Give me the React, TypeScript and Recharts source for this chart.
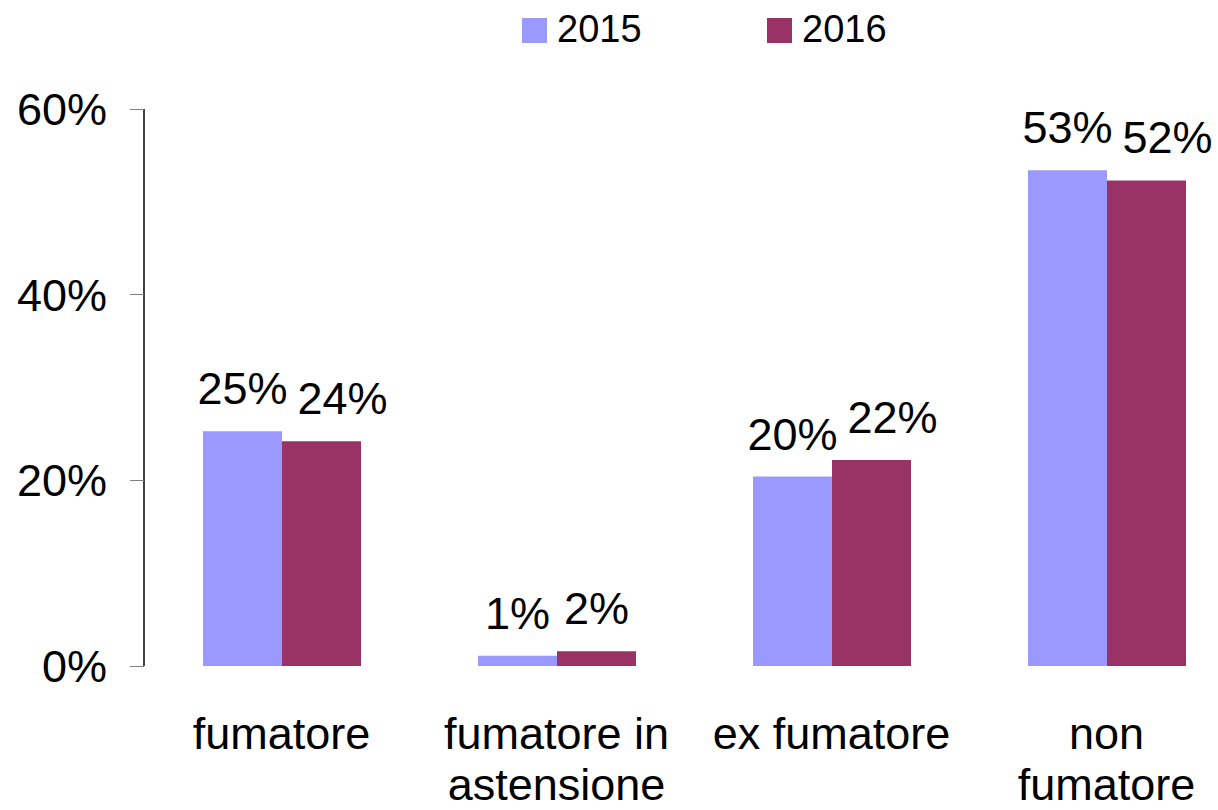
import React from "react";
import { BarChart, Bar, XAxis, YAxis, LabelList } from "recharts";

// categorie e valori (percentuali)
const categories = ["fumatore", "fumatore in astensione", "ex fumatore", "non fumatore"];
const tickLines = [["fumatore"], ["fumatore in", "astensione"], ["ex fumatore"], ["non", "fumatore"]];
const values2015 = [25.3, 1.1, 20.4, 53.4];
const values2016 = [24.2, 1.6, 22.2, 52.3];
const yTicks = [0, 20, 40, 60];
const seriesNames = ["2015", "2016"];
const seriesColors = ["#9999FF", "#993366"];

const data = categories.map((c, i) => ({
  name: c,
  y2015: values2015[i],
  y2016: values2016[i],
}));

const FONT = "'Liberation Sans', Arial, sans-serif";
const FS = 45;
const legendX = [522, 767];

const fmtPct = (v: number) => `${Math.round(v)}%`;
// larghezza approssimata (Arial): cifre 0.556em, % 0.889em
const textW = (s: string) =>
  [...s].reduce((w, ch) => w + (ch === "%" ? 0.889 : 0.556), 0) * FS;

function CategoryTick(props: any) {
  const { x, y, index } = props;
  const lines = tickLines[index] ?? [props.payload?.value];
  return (
    <text x={x} y={y} textAnchor="middle" fontSize={FS} fill="#000" fontFamily={FONT}>
      {lines.map((l: string, j: number) => (
        <tspan key={j} x={x} y={y + 83 + j * 51}>
          {l}
        </tspan>
      ))}
    </text>
  );
}

// etichetta della seconda serie: spostata a destra se si sovrappone alla prima
function Label2016(props: any) {
  const { x, y, width, height, value, index } = props;
  const cx = x + width / 2;
  const prev = values2015[index];
  const prevTop = y + height - (prev / value) * height;
  const a = fmtPct(prev);
  const b = fmtPct(value);
  let dx = 0;
  if (Math.abs(prevTop - y) < 40) {
    dx = Math.max(0, (textW(a) + textW(b)) / 2 + 10 - width);
  }
  return (
    <text x={cx + dx} y={y - 27} textAnchor="middle" fontSize={FS} fill="#000" fontFamily={FONT}>
      {b}
    </text>
  );
}

export default function App() {
  return (
    <div
      style={{
        position: "fixed",
        left: 0,
        top: 0,
        width: 1218,
        height: 810,
        overflow: "hidden",
        background: "#fff",
        fontFamily: FONT,
      }}
    >
      <svg width={1218} height={60} style={{ position: "absolute", left: 0, top: 0 }}>
        {seriesNames.map((s, i) => (
          <g key={s}>
            <rect x={legendX[i]} y={18} width={25} height={25} fill={seriesColors[i]} />
            <text x={legendX[i] + 35} y={42} fontSize={38} fill="#000" fontFamily={FONT}>
              {s}
            </text>
          </g>
        ))}
      </svg>
      <BarChart
        width={1250}
        height={810}
        data={data}
        margin={{ top: 109, right: 6, bottom: 0, left: 0 }}
        barGap={0}
        barSize={79}
      >
        <XAxis
          dataKey="name"
          axisLine={false}
          tickLine={false}
          tickSize={0}
          tickMargin={0}
          height={144}
          interval={0}
          tick={<CategoryTick />}
        />
        <YAxis
          width={144}
          domain={[0, 60]}
          ticks={yTicks}
          tickFormatter={(v: number) => `${v}%`}
          axisLine={{ stroke: "#000", strokeWidth: 1.5 }}
          tickLine={{ stroke: "#808080", shapeRendering: "crispEdges" }}
          tickSize={14}
          tickMargin={23}
          tick={{ fontSize: FS, fill: "#000", fontFamily: FONT }}
        />
        <Bar dataKey="y2015" name={seriesNames[0]} fill={seriesColors[0]} isAnimationActive={false}>
          <LabelList
            dataKey="y2015"
            position="top"
            offset={27}
            formatter={(v: any) => fmtPct(Number(v))}
            style={{ fontSize: FS, fill: "#000", fontFamily: FONT }}
          />
        </Bar>
        <Bar dataKey="y2016" name={seriesNames[1]} fill={seriesColors[1]} isAnimationActive={false}>
          <LabelList dataKey="y2016" content={<Label2016 />} />
        </Bar>
      </BarChart>
    </div>
  );
}
